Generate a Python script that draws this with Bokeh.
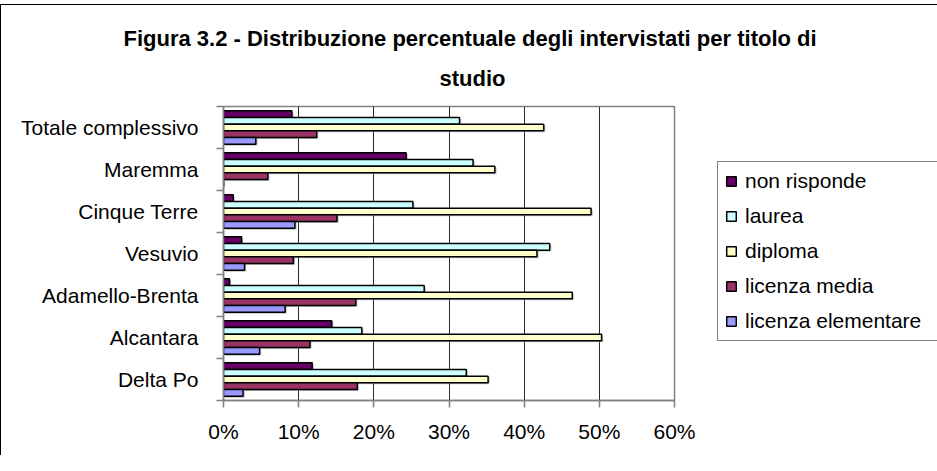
from bokeh.plotting import figure
from bokeh.models import (Range1d, FixedTicker, PrintfTickFormatter, Legend, LegendItem,
                          Title, ColumnDataSource)
from bokeh.embed import file_html
from bokeh.resources import INLINE

categories = ["Totale complessivo", "Maremma", "Cinque Terre", "Vesuvio",
              "Adamello-Brenta", "Alcantara", "Delta Po"]
non_risponde = [9.1, 24.3, 1.3, 2.4, 0.8, 14.4, 11.8]
laurea = [31.4, 33.2, 25.2, 43.4, 26.7, 18.4, 32.3]
diploma = [42.6, 36.1, 48.9, 41.7, 46.4, 50.3, 35.2]
licenza_media = [12.4, 5.9, 15.1, 9.3, 17.6, 11.5, 17.8]
licenza_elementare = [4.3, 0.0, 9.5, 2.8, 8.2, 4.8, 2.6]

series_names = ["non risponde", "laurea", "diploma", "licenza media", "licenza elementare"]
series_values = [non_risponde, laurea, diploma, licenza_media, licenza_elementare]
colors = ["#660066", "#CCFFFF", "#FFFFCC", "#993366", "#9999FF"]
x_ticks = [0, 10, 20, 30, 40, 50, 60]
title_lines = ["Figura 3.2 - Distribuzione percentuale degli intervistati per titolo di", "studio"]

FONT = "Liberation Sans"
n = len(categories)
centers = [n - 0.5 - i for i in range(n)]
bar_h = 0.16

p = figure(frame_width=451, frame_height=294, min_border_left=222, min_border_right=255,
           min_border_top=101, min_border_bottom=55, output_backend="svg",
           toolbar_location=None, x_range=Range1d(0, 60), y_range=Range1d(0, n), title=None)
p.background_fill_color = "white"
p.border_fill_color = "white"
p.outline_line_color = "#808080"
p.outline_line_width = 1.5
p.styles = {"border-left": "1px solid black", "border-top": "1px solid black",
            "margin-top": "4px"}

renderers = []
for k, (name, vals, col) in enumerate(zip(series_names, series_values, colors)):
    off = (2 - k) * bar_h
    ys = [c + off for c in centers]
    shadow = ColumnDataSource(dict(y=[v - 0.035 for v in ys], right=[v + 0.22 if v > 0 else 0 for v in vals]))
    p.hbar(y="y", left=0.22, right="right", height=bar_h, source=shadow,
           fill_color="#9a9a9a", fill_alpha=0.6, line_color=None)
    src = ColumnDataSource(dict(y=ys, right=vals))
    r = p.hbar(y="y", left=0, right="right", height=bar_h, source=src,
               fill_color=col, line_color="black", line_width=1.5)
    renderers.append(r)

# x axis
p.xaxis.ticker = FixedTicker(ticks=x_ticks)
p.xaxis.formatter = PrintfTickFormatter(format="%d%%")
p.xaxis.axis_line_color = "#808080"
p.xaxis.axis_line_width = 1.5
p.xaxis.major_tick_line_color = "#808080"
p.xaxis.major_tick_line_width = 1.5
p.xaxis.major_tick_in = 0
p.xaxis.major_tick_out = 7
p.xaxis.minor_tick_line_color = None
p.xaxis.major_label_standoff = 12
p.xaxis.major_label_text_font = FONT
p.xaxis.major_label_text_font_size = "21px"
p.xaxis.major_label_text_color = "black"

# y axis
p.yaxis.ticker = FixedTicker(ticks=centers, minor_ticks=list(range(n + 1)))
p.yaxis.major_label_overrides = {c: lab for c, lab in zip(centers, categories)}
p.yaxis.axis_line_color = "#808080"
p.yaxis.axis_line_width = 1.5
p.yaxis.major_tick_line_color = None
p.yaxis.major_tick_out = 0
p.yaxis.major_tick_in = 0
p.yaxis.minor_tick_line_color = "#808080"
p.yaxis.minor_tick_line_width = 1.5
p.yaxis.minor_tick_in = 0
p.yaxis.minor_tick_out = 7
p.yaxis.major_label_standoff = 18
p.yaxis.major_label_text_font = FONT
p.yaxis.major_label_text_font_size = "21px"
p.yaxis.major_label_text_color = "black"

p.xgrid.ticker = FixedTicker(ticks=x_ticks[1:-1])
p.xgrid.grid_line_color = "#2a2a2a"
p.xgrid.grid_line_width = 1
p.ygrid.grid_line_color = None

legend = Legend(items=[LegendItem(label=nm, renderers=[r]) for nm, r in zip(series_names, renderers)],
                location=(43, 59), orientation="vertical")
legend.label_text_font = FONT
legend.label_text_font_size = "21px"
legend.label_text_color = "black"
legend.glyph_width = 12
legend.glyph_height = 12
legend.label_height = 20
legend.label_width = 200
legend.label_standoff = 8
legend.spacing = 11
legend.padding = 7
legend.margin = 0
legend.border_line_color = "black"
legend.border_line_width = 1.2
legend.background_fill_color = "white"
p.add_layout(legend, "right")

p.add_layout(Title(text=title_lines[1], align="left", offset=216, standoff=32,
                   text_font=FONT, text_font_style="bold", text_font_size="22px",
                   text_color="black"), "above")
p.add_layout(Title(text=title_lines[0], align="left", offset=-100, standoff=-7,
                   text_font=FONT, text_font_style="bold", text_font_size="22px",
                   text_color="black"), "above")

open("out.html", "w").write(file_html(p, INLINE))
